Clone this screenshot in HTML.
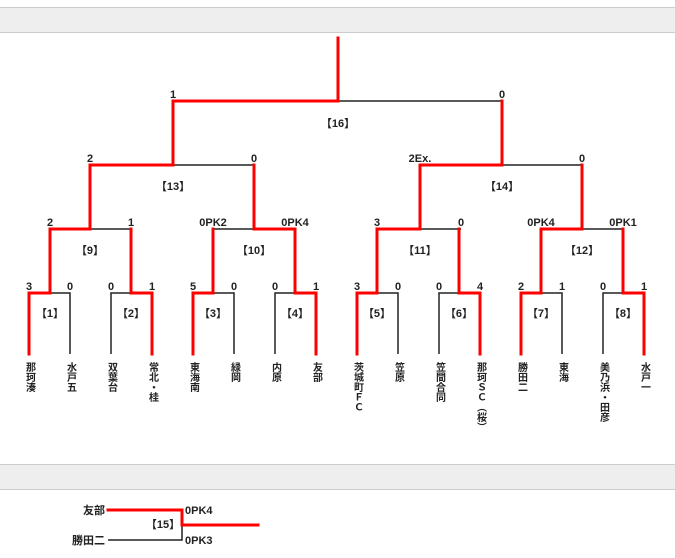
<!DOCTYPE html>
<html><head><meta charset="utf-8"><style>
html,body{margin:0;padding:0;background:#fff;width:675px;height:558px;overflow:hidden}
svg{display:block}
text{font-family:"Liberation Sans","Noto Sans CJK JP",sans-serif;font-weight:bold;font-size:11px;fill:#222}
.r{stroke:#f00;stroke-width:3;fill:none;stroke-linecap:square}
.b{stroke:#222;stroke-width:1.5;fill:none}
.v{writing-mode:tb;glyph-orientation-vertical:0;font-size:10px;letter-spacing:0}
</style></head><body>
<svg width="675" height="558" viewBox="0 0 675 558">
<rect x="0" y="7" width="675" height="25" fill="#eeeeee"/>
<line x1="0" y1="7.5" x2="675" y2="7.5" stroke="#ccc"/>
<line x1="0" y1="32.5" x2="675" y2="32.5" stroke="#ccc"/>
<rect x="0" y="464" width="675" height="25" fill="#eeeeee"/>
<line x1="0" y1="464.5" x2="675" y2="464.5" stroke="#ccc"/>
<line x1="0" y1="489.5" x2="675" y2="489.5" stroke="#ccc"/>

<g class="b">
<path d="M70 354V293H50"/><path d="M111 354V293H131"/><path d="M234 354V293H213"/><path d="M275 354V293H295"/>
<path d="M398 354V293H377"/><path d="M439 354V293H459"/><path d="M562 354V293H541"/><path d="M603 354V293H623"/>
<path d="M131 229H90"/><path d="M213 229H254"/><path d="M461 229H420"/><path d="M623 229H582"/>
<path d="M254 165H173"/><path d="M582 165H502"/>
<path d="M502 101H338"/>
</g>
<g class="r">
<path d="M29 354V293H50V229H90V165H173V101H338V38"/>
<path d="M152 354V293H131V229"/>
<path d="M193 354V293H213V229"/>
<path d="M316 354V293H295V229H254V165"/>
<path d="M357 354V293H377V229H420V165H502V101"/>
<path d="M480 354V293H459V229"/>
<path d="M521 354V293H541V229H582V165"/>
<path d="M644 354V293H623V229"/>
</g>

<g text-anchor="middle">
<text x="173" y="98">1</text><text x="502" y="98">0</text>
<text x="338" y="127">【16】</text>
<text x="90" y="162">2</text><text x="254" y="162">0</text><text x="420" y="162">2Ex.</text><text x="582" y="162">0</text>
<text x="173" y="190">【13】</text><text x="502" y="190">【14】</text>
<text x="50" y="226">2</text><text x="131" y="226">1</text><text x="213" y="226">0PK2</text><text x="295" y="226">0PK4</text>
<text x="377" y="226">3</text><text x="461" y="226">0</text><text x="541" y="226">0PK4</text><text x="623" y="226">0PK1</text>
<text x="90" y="254">【9】</text><text x="254" y="254">【10】</text><text x="420" y="254">【11】</text><text x="582" y="254">【12】</text>
<text x="29" y="290">3</text><text x="70" y="290">0</text><text x="111" y="290">0</text><text x="152" y="290">1</text>
<text x="193" y="290">5</text><text x="234" y="290">0</text><text x="275" y="290">0</text><text x="316" y="290">1</text>
<text x="357" y="290">3</text><text x="398" y="290">0</text><text x="439" y="290">0</text><text x="480" y="290">4</text>
<text x="521" y="290">2</text><text x="562" y="290">1</text><text x="603" y="290">0</text><text x="644" y="290">1</text>
<text x="50" y="317">【1】</text><text x="131" y="317">【2】</text><text x="213" y="317">【3】</text><text x="295" y="317">【4】</text>
<text x="377" y="317">【5】</text><text x="459" y="317">【6】</text><text x="541" y="317">【7】</text><text x="623" y="317">【8】</text>
</g>

<g>
<text class="v" x="29" y="362">那珂湊</text>
<text class="v" x="70" y="362">水戸五</text>
<text class="v" x="111" y="362">双葉台</text>
<text class="v" x="152" y="362">常北・桂</text>
<text class="v" x="193" y="362">東海南</text>
<text class="v" x="234" y="362">緑岡</text>
<text class="v" x="275" y="362">内原</text>
<text class="v" x="316" y="362">友部</text>
<text class="v" x="357" y="362">茨城町ＦＣ</text>
<text class="v" x="398" y="362">笠原</text>
<text class="v" x="439" y="362">笠間合同</text>
<text class="v" x="480" y="362">那珂ＳＣ（桜）</text>
<text class="v" x="521" y="362">勝田二</text>
<text class="v" x="562" y="362">東海</text>
<text class="v" x="603" y="362">美乃浜・田彦</text>
<text class="v" x="644" y="362">水戸一</text>
</g>

<path class="b" d="M108 540H182V525"/>
<path class="r" d="M108 510H182V525H258"/>
<text x="105" y="514" text-anchor="end">友部</text>
<text x="105" y="544" text-anchor="end">勝田二</text>
<text x="185" y="514">0PK4</text>
<text x="185" y="544">0PK3</text>
<text x="163" y="528" text-anchor="middle">【15】</text>
</svg>
</body></html>
